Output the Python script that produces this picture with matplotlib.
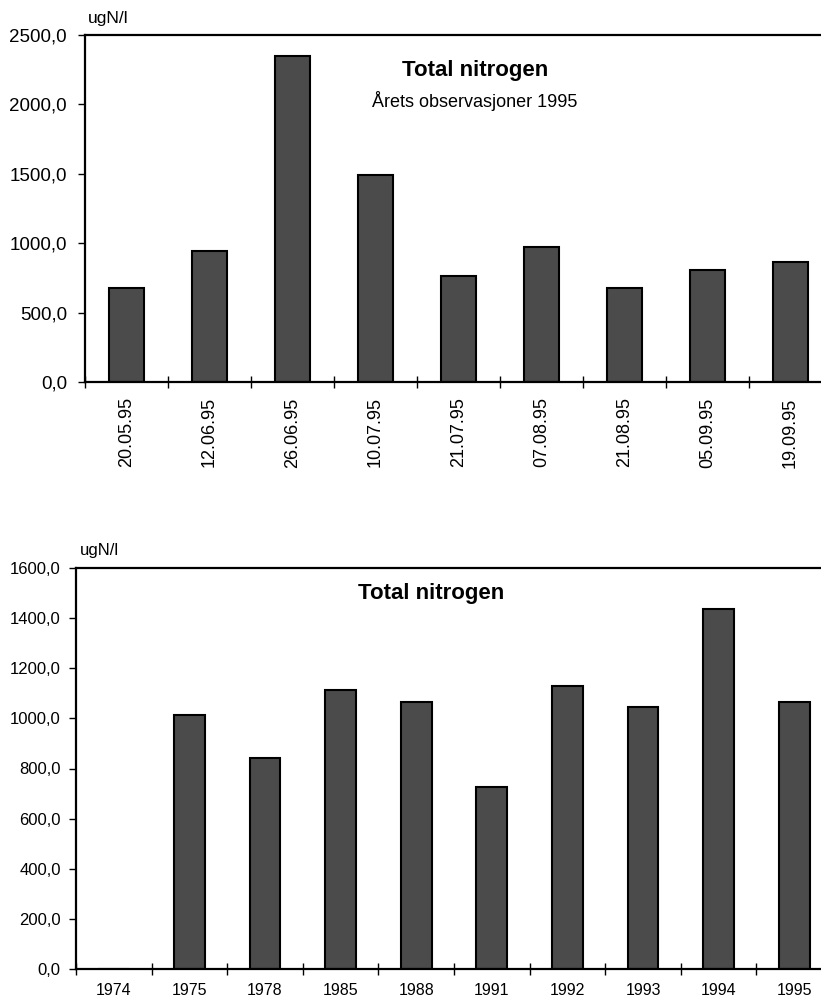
import matplotlib
matplotlib.use("Agg")
import matplotlib.pyplot as plt
import numpy as np
from matplotlib.ticker import FuncFormatter, MultipleLocator, FixedLocator

# top chart: this year's observations
dates_1995 = ["20.05.95", "12.06.95", "26.06.95", "10.07.95", "21.07.95",
              "07.08.95", "21.08.95", "05.09.95", "19.09.95"]
totn_1995 = [680, 945, 2350, 1490, 765, 970, 680, 810, 865]

# bottom chart: yearly means
years = ["1974", "1975", "1978", "1985", "1988", "1991", "1992", "1993", "1994", "1995"]
totn_years = [0, 1015, 840, 1115, 1065, 725, 1130, 1045, 1435, 1065]

W, H = 821, 999
BAR_FACE = "#4b4b4b"


def px(x, y):
    # pixel coords -> figure fraction
    return x / W, 1 - y / H


def comma_fmt(v, _):
    return f"{v:.1f}".replace(".", ",")


def style_axes(ax, n, ymax, ystep, ysize, xsize, xrot, xpad, ypad):
    ax.set_xlim(-0.5, n - 0.5)
    ax.set_ylim(0, ymax)
    ax.yaxis.set_major_locator(MultipleLocator(ystep))
    ax.yaxis.set_major_formatter(FuncFormatter(comma_fmt))
    ax.xaxis.set_major_locator(FixedLocator(np.arange(n)))
    ax.xaxis.set_minor_locator(FixedLocator(np.arange(n + 1) - 0.5))
    for s in ax.spines.values():
        s.set_linewidth(1.6)
        s.set_color("black")
    ax.tick_params(axis="x", which="major", length=0, labelsize=xsize,
                   labelrotation=xrot, pad=xpad)
    ax.tick_params(axis="x", which="minor", direction="inout", length=9, width=1.0)
    ax.tick_params(axis="y", which="major", direction="out", length=5, width=1.0,
                   labelsize=ysize, pad=ypad)


plt.rcParams["font.family"] = ["Liberation Sans", "DejaVu Sans"]

fig = plt.figure(figsize=(W / 100, H / 100), dpi=100)

# --- top chart
l, b = px(85, 382)
ax1 = fig.add_axes([l, b, 747 / W, 347 / H])
x1 = np.arange(len(dates_1995))
ax1.bar(x1, totn_1995, width=0.41, color=BAR_FACE, edgecolor="black", linewidth=1.5)
ax1.set_xticks(x1)
ax1.set_xticklabels(dates_1995)
style_axes(ax1, len(dates_1995), 2500, 500, 13.5, 13, 90, 11, 8)

fig.text(*px(88, 19), "ugN/l", fontsize=12.5, ha="left", va="center")
fig.text(*px(475, 76), "Total nitrogen", fontsize=16, fontweight="bold",
         ha="center", va="baseline")
fig.text(*px(475, 107), "Årets observasjoner 1995", fontsize=13,
         ha="center", va="baseline")

# --- bottom chart
l, b = px(76, 969)
ax2 = fig.add_axes([l, b, 756 / W, 401 / H])
x2 = np.arange(len(years))
ax2.bar(x2, totn_years, width=0.41, color=BAR_FACE, edgecolor="black", linewidth=1.5)
ax2.set_xticks(x2)
ax2.set_xticklabels(years)
style_axes(ax2, len(years), 1600, 200, 12, 11.5, 0, 10, 6)

fig.text(*px(80, 551), "ugN/l", fontsize=12, ha="left", va="center")
fig.text(*px(431, 599), "Total nitrogen", fontsize=16, fontweight="bold",
         ha="center", va="baseline")

fig.savefig("out.png", dpi=100)
